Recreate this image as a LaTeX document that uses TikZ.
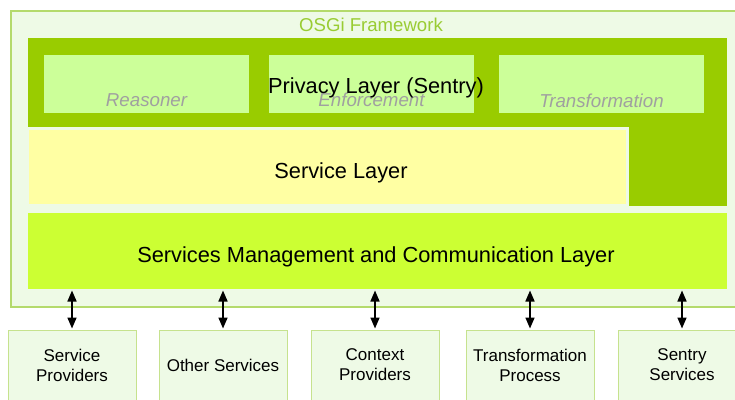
\documentclass[tikz,border=0pt]{standalone}
\usepackage{fontspec}
\setmainfont{Liberation Sans}
\usetikzlibrary{arrows.meta}
\definecolor{paleg}{HTML}{EEFAE6}
\definecolor{frameg}{HTML}{B4DA6C}
\definecolor{darkg}{HTML}{99CC00}
\definecolor{innerg}{HTML}{CCFF99}
\definecolor{servy}{HTML}{FFFFA3}
\definecolor{mgmtg}{HTML}{CCFF33}
\definecolor{boxline}{HTML}{C6E28E}
\definecolor{ital}{HTML}{A0A0A0}
\definecolor{osgit}{HTML}{99CC33}
\tikzset{
  blk/.style={rectangle, inner sep=0pt, outer sep=0pt, anchor=north west},
  frame/.style={blk, fill=paleg, draw=frameg, line width=1.5pt},
  privacy/.style={blk, fill=darkg},
  subbox/.style={blk, fill=innerg, minimum width=205pt, minimum height=58pt},
  servbox/.style={blk, fill=servy, draw=paleg, line width=3pt},
  mgmtbox/.style={blk, fill=mgmtg},
  extbox/.style={blk, fill=paleg, draw=boxline, line width=1pt, minimum width=128pt, minimum height=80pt},
  bigtext/.style={inner sep=0pt, font=\fontsize{21.8}{26}\selectfont},
  itext/.style={inner sep=0pt, text=ital, font=\fontsize{18.7}{22}\selectfont\itshape},
  osgitext/.style={inner sep=0pt, text=osgit, font=\fontsize{18.6}{22}\selectfont},
  exttext/.style={inner sep=0pt, align=center, font=\fontsize{17}{20}\selectfont},
  dblarrow/.style={{Triangle[width=9pt,length=11pt]}-{Triangle[width=9pt,length=11pt]}, line width=1.6pt, black, shorten <=1.5pt, shorten >=1.5pt}
}
\begin{document}
\begin{tikzpicture}[x=1pt,y=-1pt]
\useasboundingbox (0,0) rectangle (735,399);
\clip (0,0) rectangle (735,399);
\fill[white] (0,0) rectangle (735,399);
% outer framework
\node[frame, minimum width=740pt, minimum height=296pt] (osgi) at (11,11) {};
\node[osgitext] (osgilabel) at (371,25) {OSGi Framework};
% privacy layer
\node[privacy, minimum width=699pt, minimum height=168pt] (priv) at (28,38) {};
\node[subbox] (reas) at (44,55) {};
\node[subbox] (enf) at (269,55) {};
\node[subbox] (trans) at (499,55) {};
\node[itext] (reastxt) at ([yshift=13pt]reas.south) {Reasoner};
\node[itext] (enftxt) at ([yshift=13pt]enf.south) {Enforcement};
\node[itext] (transtxt) at ([yshift=12pt]trans.south) {Transformation};
\node[bigtext] (privtxt) at (376,87.5) {Privacy Layer (Sentry)};
% service layer
\node[servbox, minimum width=600pt, minimum height=77pt] (serv) at (27.5,128.5) {};
\node[bigtext] (servtxt) at (341,172.5) {Service Layer};
% management layer
\node[mgmtbox, minimum width=699pt, minimum height=76pt] (mgmt) at (28,213) {};
\node[bigtext] (mgmttxt) at (376,256.5) {Services Management and Communication Layer};
% external boxes
\node[extbox] (b1) at (8,330) {};
\node[extbox] (b2) at (159,330) {};
\node[extbox] (b3) at (311,330) {};
\node[extbox] (b4) at (466,330) {};
\node[extbox] (b5) at (618,330) {};
\node[exttext] (t1) at ([yshift=-35pt]b1.north) {Service\\Providers};
\node[exttext] (t2) at ([yshift=-35.5pt]b2.north) {Other Services};
\node[exttext] (t3) at ([yshift=-35pt]b3.north) {Context\\Providers};
\node[exttext] (t4) at ([yshift=-35pt]b4.north) {Transformation\\Process};
\node[exttext] (t5) at ([yshift=-35pt]b5.north) {Sentry\\Services};
% arrows
\foreach \b in {b1,b2,b3,b4,b5}{
  \draw[dblarrow] (\b.north |- mgmt.south) -- (\b.north);
}
\end{tikzpicture}
\end{document}
